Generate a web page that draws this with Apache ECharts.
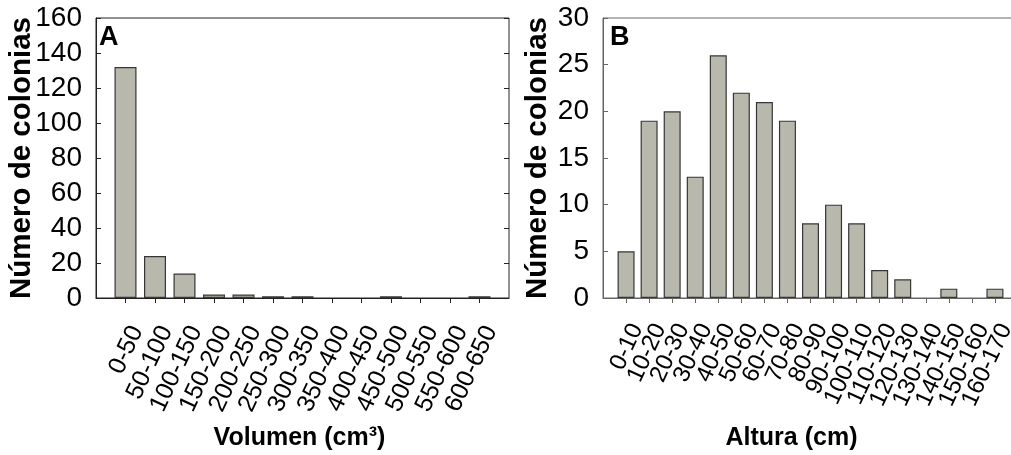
<!DOCTYPE html>
<html>
<head>
<meta charset="utf-8">
<script src="https://cdn.jsdelivr.net/npm/echarts@6/dist/echarts.min.js"></script>
<style>
  html, body { margin: 0; padding: 0; background: #fff; }
  #chart { width: 1011px; height: 455px; }
</style>
</head>
<body>
<div id="chart"></div>
<script>
// Panel A: colony volume classes (cm3)
const volumeClasses = ['0-50', '50-100', '100-150', '150-200', '200-250', '250-300', '300-350',
  '350-400', '400-450', '450-500', '500-550', '550-600', '600-650'];
const volumeCounts = [132, 24, 14, 2, 2, 1, 1, 0, 0, 1, 0, 0, 1];

// Panel B: colony height classes (cm)
const heightClasses = ['0-10', '10-20', '20-30', '30-40', '40-50', '50-60', '60-70', '70-80', '80-90',
  '90-100', '100-110', '110-120', '120-130', '130-140', '140-150', '150-160', '160-170'];
const heightCounts = [5, 19, 20, 13, 26, 22, 21, 19, 8, 10, 8, 3, 2, 0, 1, 0, 1];

// Y axis ranges
const volumeAxis = { max: 160, step: 20 };
const heightAxis = { max: 30, step: 5 };

const FONT = 'Liberation Sans, Arial, Helvetica, sans-serif';
const BAR_FILL = '#b8b8ad';
const BAR_EDGE = '#363636';

// One empty slot on each side of the classes, so the first and last bars sit one step in from the frame
function paddedCategories(cats) { return [''].concat(cats, ['']); }
function barData(counts) {
  const items = counts.map(v => (v === 0 ? { value: v, itemStyle: { borderWidth: 0 } } : { value: v }));
  return [null].concat(items, [null]);
}

function xAxisFor(gridIndex, cats, name, namePad, labelSize, labelMargin, lineColor) {
  const n = cats.length;
  return {
    type: 'category',
    gridIndex: gridIndex,
    data: paddedCategories(cats),
    boundaryGap: false,
    name: name,
    nameLocation: 'middle',
    nameGap: 128,
    nameMoveOverlap: false,
    nameTextStyle: { fontFamily: FONT, fontSize: 25, fontWeight: 'bold', color: '#000', padding: namePad },
    axisLine: { show: true, lineStyle: { color: lineColor, width: 1 } },
    axisTick: {
      show: true, length: 5, inside: false,
      interval: (i) => i > 0 && i <= n,
      lineStyle: { color: lineColor, width: 1 }
    },
    axisLabel: {
      interval: 0, rotate: 65, margin: labelMargin, verticalAlign: 'top',
      fontFamily: FONT, fontSize: labelSize, color: '#000'
    },
    splitLine: { show: false }
  };
}

function yAxisFor(gridIndex, range, nameGap, lineColor) {
  return {
    type: 'value',
    gridIndex: gridIndex,
    min: 0, max: range.max, interval: range.step,
    name: 'Número de colonias',
    nameLocation: 'middle',
    nameGap: nameGap,
    nameRotate: 90,
    nameMoveOverlap: false,
    nameTextStyle: { fontFamily: FONT, fontSize: 29.5, fontWeight: 'bold', color: '#000' },
    axisLine: { show: true, lineStyle: { color: lineColor, width: 1 } },
    axisTick: { show: true, inside: true, length: 5, lineStyle: { color: lineColor, width: 1 } },
    axisLabel: { margin: 14, fontFamily: FONT, fontSize: 28, color: '#000' },
    splitLine: { show: false }
  };
}

const chart = echarts.init(document.getElementById('chart'), null, { renderer: 'canvas' });

chart.setOption({
  animation: false,
  backgroundColor: '#fff',
  grid: [
    { left: 96, top: 18, width: 413, height: 280, show: true, borderColor: '#222', borderWidth: 1,
      backgroundColor: 'transparent', outerBoundsMode: 'none', containLabel: false },
    { left: 603, top: 18, width: 415, height: 280, show: true, borderColor: '#666', borderWidth: 1,
      backgroundColor: 'transparent', outerBoundsMode: 'none', containLabel: false }
  ],
  xAxis: [
    xAxisFor(0, volumeClasses, 'Volumen (cm³)', [0, 6, 0, 0], 25, 24, '#222'),
    xAxisFor(1, heightClasses, 'Altura (cm)', [0, 38, 0, 0], 24, 22, '#666')
  ],
  yAxis: [
    yAxisFor(0, volumeAxis, 59, '#222'),
    yAxisFor(1, heightAxis, 50, '#666'),
    // right-hand frame of panel A carries inward ticks
    {
      type: 'value', gridIndex: 0, position: 'right',
      min: 0, max: volumeAxis.max, interval: volumeAxis.step,
      axisLine: { show: false },
      axisTick: { show: true, inside: true, length: 5, lineStyle: { color: '#222' } },
      axisLabel: { show: false },
      splitLine: { show: false }
    }
  ],
  series: [
    {
      type: 'bar', xAxisIndex: 0, yAxisIndex: 0,
      data: barData(volumeCounts),
      barWidth: 22,
      itemStyle: { color: BAR_FILL, borderColor: BAR_EDGE, borderWidth: 1.2 },
      silent: true
    },
    {
      type: 'bar', xAxisIndex: 1, yAxisIndex: 1,
      data: barData(heightCounts),
      barWidth: 17,
      itemStyle: { color: BAR_FILL, borderColor: BAR_EDGE, borderWidth: 1.2 },
      silent: true
    }
  ],
  graphic: [
    { type: 'text', left: 99, top: 24, style: { text: 'A', font: 'bold 27px ' + FONT, fill: '#000' } },
    { type: 'text', left: 610, top: 24, style: { text: 'B', font: 'bold 27px ' + FONT, fill: '#000' } }
  ]
});
</script>
</body>
</html>
